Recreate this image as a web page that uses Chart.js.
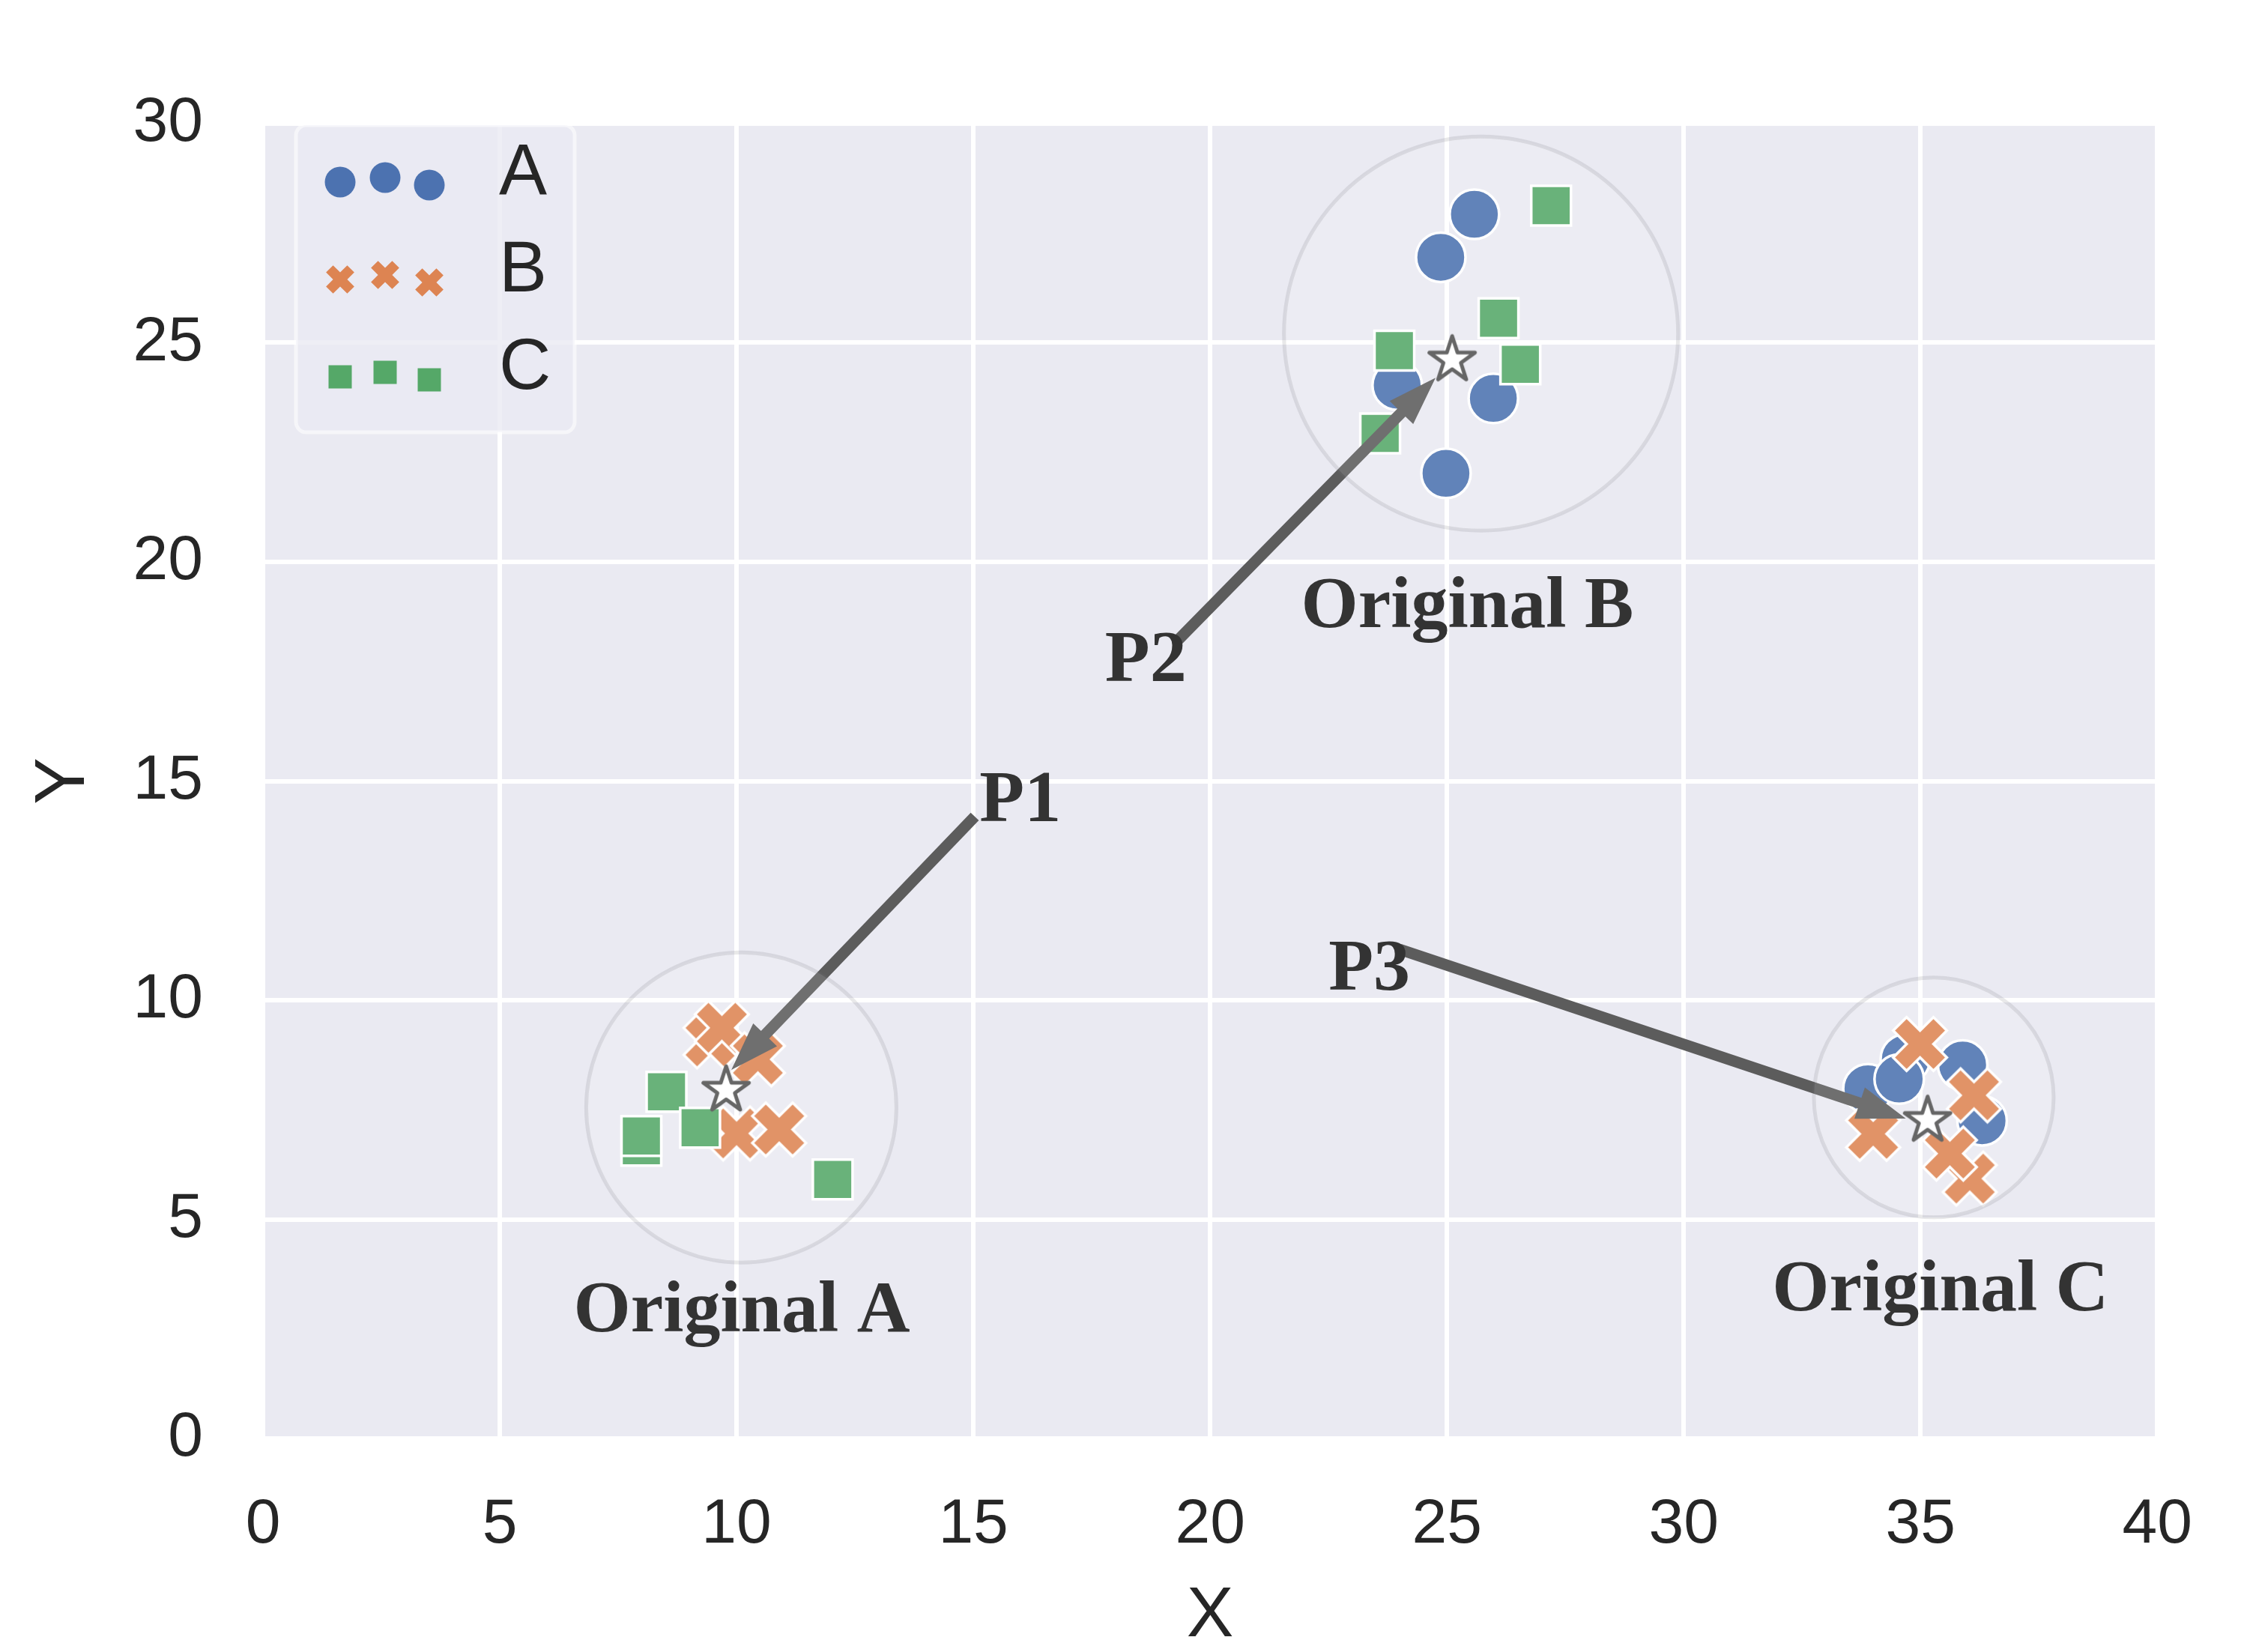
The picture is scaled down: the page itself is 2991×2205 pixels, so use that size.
<!DOCTYPE html>
<html>
<head>
<meta charset="utf-8">
<script src="https://cdn.jsdelivr.net/npm/chart.js@4.4.1/dist/chart.umd.min.js"></script>
<style>
  html, body { margin: 0; padding: 0; background: #ffffff; }
  canvas { display: block; }
</style>
</head>
<body>
<canvas id="chart" width="2991" height="2205"></canvas>
<script>
// groups
var groups = ['A', 'B', 'C'];
var groupColors = ['#4c72b0', '#dd8452', '#55a868'];

// points of each group
var aX = [24.87, 25.58, 23.95, 25.98, 24.98, 33.89, 34.68, 34.55, 35.89, 36.3];
var aY = [26.95, 27.93, 24.03, 23.73, 22.02, 7.98, 8.66, 8.2, 8.52, 7.25];
var bX = [9.45, 9.69, 10.45, 10.0, 10.9, 34.99, 36.13, 34.0, 36.04, 35.62];
var bY = [9.06, 9.37, 8.65, 6.96, 7.05, 9.0, 7.83, 6.95, 5.93, 6.5];
var cX = [8.52, 9.23, 7.99, 7.99, 12.03, 27.2, 26.09, 23.89, 26.55, 23.59];
var cY = [7.91, 7.09, 6.68, 6.9, 5.91, 28.13, 25.56, 24.82, 24.51, 22.93];

// original clusters (halo centres) and the moved centres (stars)
var clusterNames = ['Original A', 'Original B', 'Original C'];
var haloX = [10.1, 25.72, 35.28];
var haloY = [7.55, 25.21, 7.78];
var starX = [9.78, 25.11, 35.15];
var starY = [7.98, 24.64, 7.29];
var nameX = [10.11, 25.43, 35.42];
var nameY = [2.44, 18.51, 2.92];

// arrows P1..P3
var arrowNames = ['P1', 'P2', 'P3'];
var arrowTextX = [15.13, 17.78, 22.5];
var arrowTextY = [14.09, 17.28, 10.24];
var arrowFromX = [15.03, 19.28, 24.0];
var arrowFromY = [14.19, 18.17, 11.16];
var arrowToX = [9.89, 24.76, 34.69];
var arrowToY = [8.41, 24.2, 7.3];

var xTicks = [0, 5, 10, 15, 20, 25, 30, 35, 40];
var yTicks = [0, 5, 10, 15, 20, 25, 30];

var textColor = '#262626';
var sansFont = 'Liberation Sans';

function pts(xs, ys) {
    return xs.map(function (x, i) { return { x: x, y: ys[i] }; });
}

// filled "X" marker like matplotlib's, with a white edge
function xPath(ctx, cx, cy, s) {
    var a = s / 6, b = s / 2;
    var v = [[-a, -b], [a, -b], [a, -a], [b, -a], [b, a], [a, a], [a, b], [-a, b], [-a, a], [-b, a], [-b, -a], [-a, -a]];
    var c = Math.SQRT1_2;
    ctx.beginPath();
    v.forEach(function (p, i) {
        var px = cx + (p[0] - p[1]) * c, py = cy + (p[0] + p[1]) * c;
        if (i === 0) ctx.moveTo(px, py); else ctx.lineTo(px, py);
    });
    ctx.closePath();
}

function makeX(s, color, edge) {
    var cv = document.createElement('canvas');
    var n = Math.ceil(s + edge * 2 + 4);
    cv.width = n; cv.height = n;
    var c = cv.getContext('2d');
    xPath(c, n / 2, n / 2, s);
    c.fillStyle = color;
    c.fill();
    if (edge > 0) {
        c.lineWidth = edge;
        c.strokeStyle = '#ffffff';
        c.lineJoin = 'miter';
        c.stroke();
    }
    return cv;
}

function makeStar(r, edge) {
    var cv = document.createElement('canvas');
    var n = Math.ceil(2 * r + edge * 2 + 4);
    cv.width = n; cv.height = n;
    var c = cv.getContext('2d');
    var ri = r * 0.381966;
    c.beginPath();
    for (var i = 0; i < 10; i++) {
        var ang = -Math.PI / 2 + i * Math.PI / 5;
        var rr = i % 2 === 0 ? r : ri;
        var px = n / 2 + rr * Math.cos(ang), py = n / 2 + 2 + rr * Math.sin(ang);
        if (i === 0) c.moveTo(px, py); else c.lineTo(px, py);
    }
    c.closePath();
    c.fillStyle = '#ffffff';
    c.fill();
    c.lineWidth = edge;
    c.lineJoin = 'round';
    c.strokeStyle = '#666666';
    c.stroke();
    return cv;
}

var xMarker = makeX(76, groupColors[1], 3.5);
var starMarker = makeStar(32, 5);
var legendX = makeX(40, groupColors[1], 0);

function drawArrow(ctx, x1, y1, x2, y2) {
    var dx = x2 - x1, dy = y2 - y1, len = Math.sqrt(dx * dx + dy * dy);
    var ux = dx / len, uy = dy / len, nx = -uy, ny = ux;
    var hl = 65, hw = 22, sw = 7.5;
    var bx = x2 - ux * hl, by = y2 - uy * hl;
    ctx.beginPath();
    ctx.moveTo(x1 + nx * sw, y1 + ny * sw);
    ctx.lineTo(bx + nx * sw, by + ny * sw);
    ctx.lineTo(bx + nx * hw, by + ny * hw);
    ctx.lineTo(x2, y2);
    ctx.lineTo(bx - nx * hw, by - ny * hw);
    ctx.lineTo(bx - nx * sw, by - ny * sw);
    ctx.lineTo(x1 - nx * sw, y1 - ny * sw);
    ctx.closePath();
    ctx.fill();
}

var plotBg = {
    id: 'plotBg',
    beforeDraw: function (chart) {
        var a = chart.chartArea, ctx = chart.ctx;
        ctx.save();
        ctx.fillStyle = '#eaeaf2';
        ctx.fillRect(a.left, a.top, a.right - a.left, a.bottom - a.top);
        ctx.restore();
    }
};

// arrows go under the translucent halos
var arrows = {
    id: 'arrows',
    beforeDatasetDraw: function (chart, args) {
        if (args.index !== 3) return;
        var sx = chart.scales.x, sy = chart.scales.y, ctx = chart.ctx;
        ctx.save();
        ctx.fillStyle = '#5c5c5c';
        for (var i = 0; i < arrowFromX.length; i++) {
            drawArrow(ctx, sx.getPixelForValue(arrowFromX[i]), sy.getPixelForValue(arrowFromY[i]),
                sx.getPixelForValue(arrowToX[i]), sy.getPixelForValue(arrowToY[i]));
        }
        ctx.restore();
    }
};

var labels = {
    id: 'labels',
    afterDatasetsDraw: function (chart) {
        var sx = chart.scales.x, sy = chart.scales.y, ctx = chart.ctx;
        ctx.save();
        ctx.font = 'bold 98px "Liberation Serif"';
        ctx.fillStyle = '#333333';
        ctx.textBaseline = 'alphabetic';
        ctx.textAlign = 'center';
        clusterNames.forEach(function (t, i) {
            ctx.fillText(t, sx.getPixelForValue(nameX[i]), sy.getPixelForValue(nameY[i]));
        });
        ctx.textAlign = 'left';
        arrowNames.forEach(function (t, i) {
            ctx.fillText(t, sx.getPixelForValue(arrowTextX[i]), sy.getPixelForValue(arrowTextY[i]));
        });
        ctx.restore();
    }
};

var legendBox = {
    id: 'legendBox',
    afterDraw: function (chart) {
        var ctx = chart.ctx;
        ctx.save();
        ctx.beginPath();
        ctx.roundRect(395, 167, 372, 410, 14);
        ctx.fillStyle = 'rgba(234,234,242,0.8)';
        ctx.fill();
        ctx.lineWidth = 5;
        ctx.strokeStyle = 'rgba(255,255,255,0.55)';
        ctx.stroke();

        var mx = [454, 514, 573];
        var off = [0, -6, 4];
        groups.forEach(function (g, i) {
            var rowY = 243 + i * 130;
            for (var k = 0; k < 3; k++) {
                var px = mx[k], py = rowY + off[k];
                ctx.fillStyle = groupColors[i];
                if (i === 0) {
                    ctx.beginPath();
                    ctx.arc(px, py, 20.5, 0, Math.PI * 2);
                    ctx.fill();
                } else if (i === 1) {
                    ctx.drawImage(legendX, px - legendX.width / 2, py - legendX.height / 2);
                } else {
                    ctx.fillRect(px - 15.5, py - 15.5, 31, 31);
                }
            }
            ctx.fillStyle = textColor;
            ctx.font = '96px "' + sansFont + '"';
            ctx.textAlign = 'left';
            ctx.textBaseline = 'middle';
            ctx.fillText(g, 666, rowY - 10);
        });
        ctx.restore();
    }
};

var ctx = document.getElementById('chart');
var chart = new Chart(ctx, {
    type: 'scatter',
    data: {
        datasets: [{
            label: groups[0],
            data: pts(aX, aY),
            pointStyle: 'circle',
            pointRadius: 33,
            backgroundColor: groupColors[0],
            borderColor: '#ffffff',
            borderWidth: 3.5,
            order: 4
        }, {
            label: groups[1],
            data: pts(bX, bY),
            pointStyle: xMarker,
            pointRadius: 36,
            order: 3
        }, {
            label: groups[2],
            data: pts(cX, cY),
            pointStyle: 'rect',
            pointRadius: 37.5,
            backgroundColor: groupColors[2],
            borderColor: '#ffffff',
            borderWidth: 3.5,
            order: 2
        }, {
            label: 'halo',
            data: pts(haloX, haloY),
            pointStyle: 'circle',
            pointRadius: [207, 263, 160],
            backgroundColor: 'rgba(255,255,255,0.12)',
            borderColor: 'rgba(110,110,120,0.16)',
            borderWidth: 5,
            clip: false,
            order: 1
        }, {
            label: 'centre',
            data: pts(starX, starY),
            pointStyle: starMarker,
            pointRadius: 32,
            order: 0
        }]
    },
    options: {
        responsive: false,
        devicePixelRatio: 1,
        animation: false,
        events: [],
        layout: { autoPadding: false, padding: { top: 165, right: 78, left: 0, bottom: 0 } },
        plugins: {
            legend: { display: false },
            tooltip: { enabled: false }
        },
        scales: {
            x: {
                type: 'linear',
                min: 0,
                max: 40,
                afterBuildTicks: function (scale) {
                    scale.ticks = xTicks.map(function (v) { return { value: v }; });
                },
                afterFit: function (scale) { scale.height = 285; },
                ticks: {
                    padding: 65,
                    color: textColor,
                    maxRotation: 0,
                    autoSkip: false,
                    font: { family: sansFont, size: 84 }
                },
                grid: { color: '#ffffff', lineWidth: 6, drawTicks: false },
                border: { display: false },
                title: {
                    display: true,
                    text: 'X',
                    color: textColor,
                    padding: { top: 0, bottom: 0 },
                    font: { family: sansFont, size: 94, lineHeight: 1 }
                }
            },
            y: {
                type: 'linear',
                min: 0,
                max: 30,
                afterBuildTicks: function (scale) {
                    scale.ticks = yTicks.map(function (v) { return { value: v }; });
                },
                afterFit: function (scale) { scale.width = 351; },
                ticks: {
                    padding: 80,
                    color: textColor,
                    autoSkip: false,
                    font: { family: sansFont, size: 84 }
                },
                grid: { color: '#ffffff', lineWidth: 6, drawTicks: false },
                border: { display: false },
                title: {
                    display: true,
                    text: 'Y',
                    color: textColor,
                    padding: { top: 39, bottom: 0 },
                    font: { family: sansFont, size: 94, lineHeight: 1 }
                }
            }
        }
    },
    plugins: [plotBg, arrows, labels, legendBox]
});
</script>
</body>
</html>
